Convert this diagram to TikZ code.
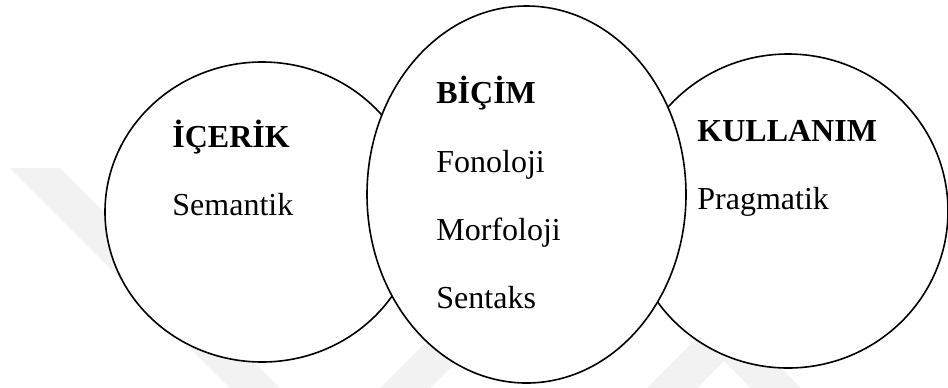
\documentclass[tikz,border=0pt]{standalone}
\usepackage{fontspec}
\setmainfont{Liberation Serif}
\begin{document}
\begin{tikzpicture}[x=0.5pt,y=-0.5pt,
	halka/.style={draw=black,line width=0.8pt,fill=white},
	filigran/.style={fill=black!5,draw=none},
	yazi/.style={anchor=base west,inner sep=0pt,font=\fontsize{16}{19}\selectfont},
	baslik/.style={yazi,font=\fontsize{16}{19}\selectfont\bfseries}]
	\useasboundingbox (0,0) rectangle (948,387);
	\fill[filigran] (10,168)--(60,168)--(282,390)--(232,390)--cycle;
	\fill[filigran] (378,390)--(428,390)--(528,290)--(478,290)--cycle;
	\fill[filigran] (645,390)--(695,390)--(785,300)--(735,300)--cycle;
	\fill[filigran] (700,337)--(750,337)--(803,390)--(753,390)--cycle;
	\draw[halka] (262,212) ellipse[x radius=157,y radius=150];
	\draw[halka] (788,211) ellipse[x radius=160,y radius=157];
	\draw[halka] (526.5,194.5) ellipse[x radius=159.5,y radius=188.5];
	\node[baslik] (icerik) at (172,147) {İÇERİK};
	\node[yazi] (semantik) at (172,215) {Semantik};
	\node[baslik] (bicim) at (436,103) {BİÇİM};
	\node[yazi] (fonoloji) at (436,172) {Fonoloji};
	\node[yazi] (morfoloji) at (436,240) {Morfoloji};
	\node[yazi] (sentaks) at (436,308) {Sentaks};
	\node[baslik] (kullanim) at (697,141) {KULLANIM};
	\node[yazi] (pragmatik) at (697,209) {Pragmatik};
\end{tikzpicture}
\end{document}
